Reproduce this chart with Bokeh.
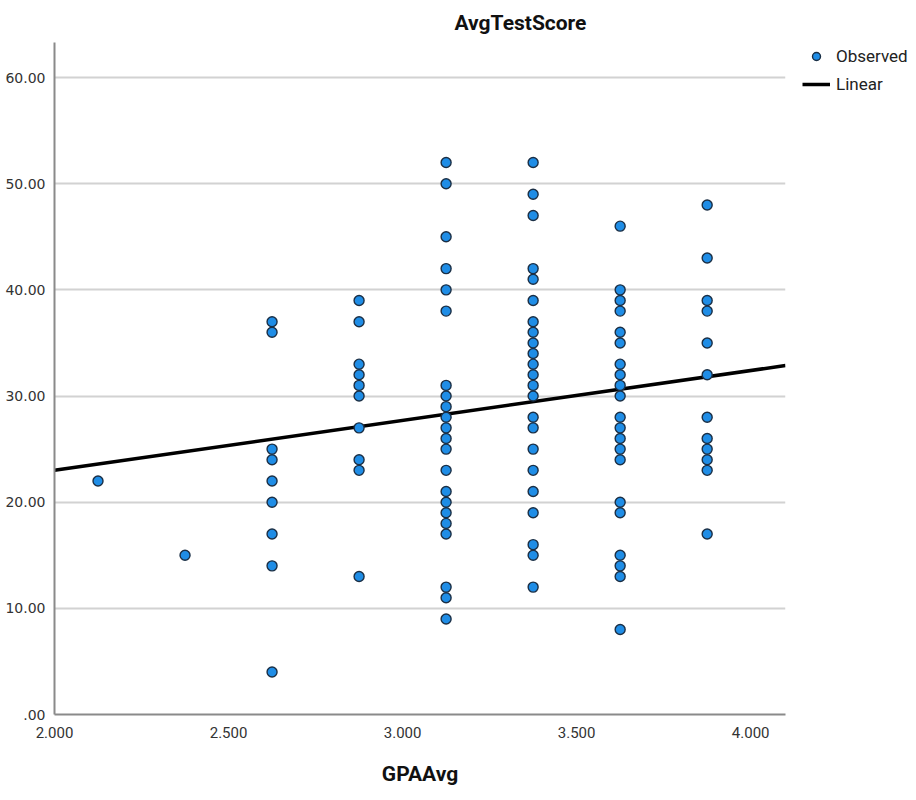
from bokeh.plotting import figure
from bokeh.models import Range1d, Legend, ColumnDataSource, FixedTicker
from bokeh.embed import file_html
from bokeh.resources import INLINE

# ---- data ----
gpa_levels = [2.125, 2.375, 2.625, 2.875, 3.125, 3.375, 3.625, 3.875]
scores_2125 = [22]
scores_2375 = [15]
scores_2625 = [37, 36, 25, 24, 22, 20, 17, 14, 4]
scores_2875 = [39, 37, 33, 32, 31, 30, 27, 24, 23, 13]
scores_3125 = [52, 50, 45, 42, 40, 38, 31, 30, 29, 28, 27, 26, 25, 23, 21, 20, 19, 18, 17, 12, 11, 9]
scores_3375 = [52, 49, 47, 42, 41, 39, 37, 36, 35, 34, 33, 32, 31, 30, 28, 27, 25, 23, 21, 19, 16, 15, 12]
scores_3625 = [46, 40, 39, 38, 36, 35, 33, 32, 31, 30, 28, 27, 26, 25, 24, 20, 19, 15, 14, 13, 8]
scores_3875 = [48, 43, 39, 38, 35, 32, 28, 26, 25, 24, 23, 17]

fit_intercept = 13.6
fit_slope = 4.7

x_ticks = [2.0, 2.5, 3.0, 3.5, 4.0]
x_tick_labels = ["2.000", "2.500", "3.000", "3.500", "4.000"]
y_ticks = [0, 10, 20, 30, 40, 50, 60]
y_tick_labels = [".00", "10.00", "20.00", "30.00", "40.00", "50.00", "60.00"]

x_min, x_max = 2.0, 4.10
y_min, y_max = 0.0, 63.3

# ---- build sources ----
all_scores = [scores_2125, scores_2375, scores_2625, scores_2875,
              scores_3125, scores_3375, scores_3625, scores_3875]
px, py = [], []
for g, sc in zip(gpa_levels, all_scores):
    for s in sc:
        px.append(g)
        py.append(s)
pts = ColumnDataSource(dict(x=px, y=py))
fit_x = [x_min, x_max]
fit_y = [fit_intercept + fit_slope * v for v in fit_x]
fit = ColumnDataSource(dict(x=fit_x, y=fit_y))

p = figure(frame_width=731, frame_height=672, output_backend="svg",
           toolbar_location=None,
           x_range=Range1d(x_min, x_max), y_range=Range1d(y_min, y_max),
           min_border_left=54, min_border_right=118, min_border_top=42,
           min_border_bottom=76)
p.outline_line_color = None
p.background_fill_color = "white"
p.border_fill_color = "white"

# title
p.title.text = "AvgTestScore"
p.title.text_font = "Roboto"
p.title.text_font_size = "21px"
p.title.text_font_style = "bold"
p.title.text_color = "#111111"
p.title.align = "left"
p.title.offset = 400
p.title.standoff = 15

# grid
p.xgrid.grid_line_color = None
p.ygrid.grid_line_color = "#d2d2d2"
p.ygrid.grid_line_width = 2
p.ygrid.ticker = FixedTicker(ticks=y_ticks)

# axes
p.xaxis.ticker = FixedTicker(ticks=x_ticks)
p.yaxis.ticker = FixedTicker(ticks=y_ticks)
p.xaxis.major_label_overrides = {t: l for t, l in zip(x_ticks, x_tick_labels)}
p.yaxis.major_label_overrides = {t: l for t, l in zip(y_ticks, y_tick_labels)}
for ax in (p.xaxis, p.yaxis):
    ax.axis_line_color = "#8a8a8a"
    ax.axis_line_width = 2
    ax.major_tick_line_color = None
    ax.minor_tick_line_color = None
    ax.major_label_text_color = "#333333"
p.xaxis.major_label_text_font = "Roboto"
p.xaxis.major_label_text_font_size = "15px"
p.xaxis.major_label_standoff = 6
p.yaxis.major_label_text_font = "DejaVu Sans"
p.yaxis.major_label_text_font_size = "14px"
p.yaxis.major_label_standoff = 3

p.xaxis.axis_label = "GPAAvg"
p.xaxis.axis_label_text_font = "Roboto"
p.xaxis.axis_label_text_font_size = "21px"
p.xaxis.axis_label_text_font_style = "bold"
p.xaxis.axis_label_text_color = "#111111"
p.xaxis.axis_label_standoff = 21

# marks
r_line = p.line("x", "y", source=fit, line_color="black", line_width=3.5)
r_pts = p.scatter("x", "y", source=pts, marker="circle", size=10,
                  fill_color="#1f8de6", line_color="#1b2f45", line_width=1.4)
r_pts.level = "overlay"

legend = Legend(items=[("Observed", [r_pts]), ("Linear", [r_line])],
                location=(17, 620), border_line_color=None,
                background_fill_alpha=0, label_text_font="Roboto",
                label_text_font_size="17px", label_text_color="#222222",
                glyph_width=28, glyph_height=20, label_height=20,
                spacing=8, padding=0, margin=0, label_standoff=6)
p.add_layout(legend, "right")

open("out.html", "w").write(file_html(p, INLINE))
